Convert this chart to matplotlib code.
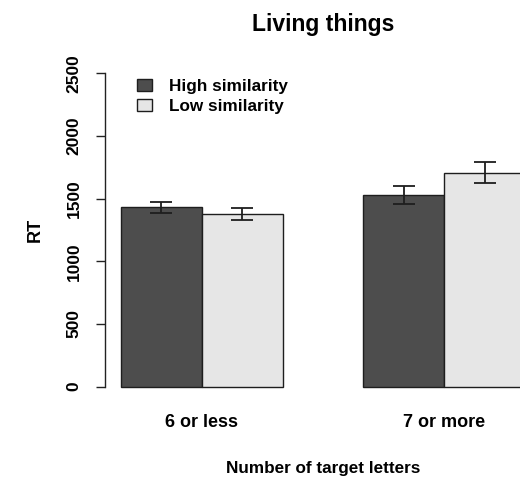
import matplotlib.pyplot as plt
from matplotlib.patches import Patch
import numpy as np

plt.rcParams["font.family"] = ["Liberation Sans", "DejaVu Sans"]
plt.rcParams["font.weight"] = "bold"
plt.rcParams["axes.labelweight"] = "bold"

categories = ["6 or less", "7 or more"]
series = ["High similarity", "Low similarity"]
high_rt = [1431, 1531]
high_se = [44, 70]
low_rt = [1375, 1707]
low_se = [49, 82]
yticks = [0, 500, 1000, 1500, 2000, 2500]

dark = "#4d4d4d"
light = "#e6e6e6"
edge = "#1e1e1e"

W, H = 520, 479
fig = plt.figure(figsize=(W / 100, H / 100), dpi=100)
# plot region extends past the right edge, as in the original R device
ax = fig.add_axes([104.5 / W, (H - 399.2) / H, 437 / W, 338.4 / H])

centers = np.array([2.0, 5.0])
ax.bar(centers - 0.5, high_rt, width=1.0, color=dark, edgecolor=edge, linewidth=1)
ax.bar(centers + 0.5, low_rt, width=1.0, color=light, edgecolor=edge, linewidth=1)
ax.errorbar(centers - 0.5, high_rt, yerr=high_se, fmt="none", ecolor=edge,
            elinewidth=1.3, capsize=8, capthick=1.3)
ax.errorbar(centers + 0.5, low_rt, yerr=low_se, fmt="none", ecolor=edge,
            elinewidth=1.3, capsize=8, capthick=1.3)

ax.set_xlim(0.8, 6.2)
ax.set_ylim(-100, 2600)

for s in ["top", "right", "bottom"]:
    ax.spines[s].set_visible(False)
ax.spines["left"].set_bounds(0, 2500)
ax.spines["left"].set_linewidth(1)
ax.spines["left"].set_color("#222222")

ax.set_yticks(yticks)
ax.set_yticklabels([str(v) for v in yticks], fontsize=12.5)
ax.tick_params(axis="y", length=6.5, width=1, pad=10, color="#222222")
for lbl in ax.get_yticklabels():
    lbl.set_rotation(90)
    lbl.set_rotation_mode("default")
    lbl.set_verticalalignment("center")
    lbl.set_horizontalalignment("right")
ax.set_xticks(centers)
ax.set_xticklabels(categories, fontsize=13)
ax.tick_params(axis="x", length=0, pad=11)

ax.set_title("Living things", fontsize=16.5, fontweight="bold", pad=21.5)
ax.set_xlabel("Number of target letters", fontsize=12.3, fontweight="bold")
ax.xaxis.set_label_coords(0.5, -0.183)
ax.set_ylabel("RT", fontsize=13, fontweight="bold")
ax.yaxis.set_label_coords(-0.138, 0.5)

handles = [Patch(facecolor=dark, edgecolor=edge), Patch(facecolor=light, edgecolor=edge)]
fig.legend(handles, series, loc="upper left", bbox_to_anchor=(137 / W, 1 - 79 / H),
           bbox_transform=fig.transFigure, frameon=False, borderpad=0, borderaxespad=0,
           handlelength=0.85, handleheight=0.7, handletextpad=1.0, labelspacing=0.3,
           prop={"size": 12.3, "weight": "bold"})

fig.savefig("out.png", dpi=100)
